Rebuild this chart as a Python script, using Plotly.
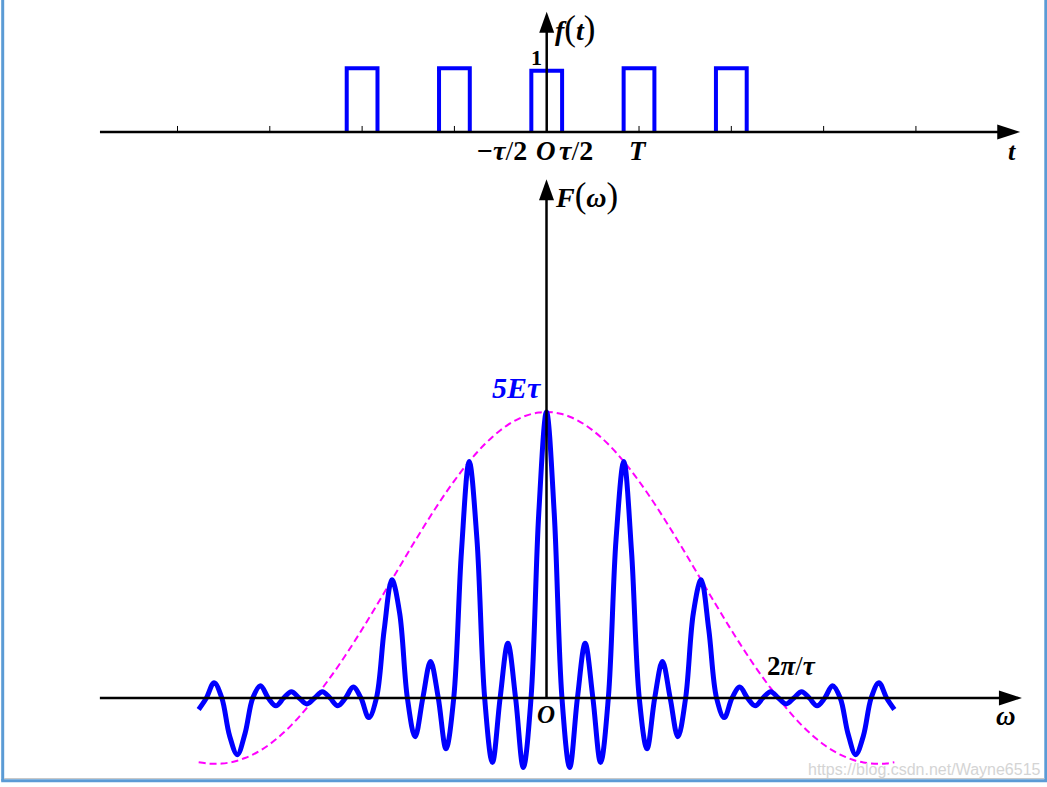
import plotly.graph_objects as go

# ---------------- data ----------------
# top panel: rectangular pulse train f(t), t in units of T
pulse_centers = [-2, -1, 0, 1, 2]
pulse_heights = [1.0, 1.0, 0.96, 1.0, 1.0]
pulse_width = 1 / 3          # tau / T
t_ticks = [-4, -3, -2, -1, 1, 2, 3, 4]

# bottom panel: spectrum F(omega), omega in units of 2*pi/T
omega = [-4.5, -4.4, -4.3, -4.2, -4.1, -4.0, -3.9, -3.8, -3.7, -3.6,
         -3.5, -3.4, -3.3, -3.2, -3.1, -3.0, -2.9, -2.8, -2.7, -2.6,
         -2.5, -2.4, -2.3, -2.2, -2.1, -2.0, -1.9, -1.8, -1.7, -1.6,
         -1.5, -1.4, -1.3, -1.2, -1.1, -1.0, -0.9, -0.8, -0.7, -0.6,
         -0.5, -0.4, -0.3, -0.2, -0.1, 0.0, 0.1, 0.2, 0.3, 0.4,
         0.5, 0.6, 0.7, 0.8, 0.9, 1.0, 1.1, 1.2, 1.3, 1.4,
         1.5, 1.6, 1.7, 1.8, 1.9, 2.0, 2.1, 2.2, 2.3, 2.4,
         2.5, 2.6, 2.7, 2.8, 2.9, 3.0, 3.1, 3.2, 3.3, 3.4,
         3.5, 3.6, 3.7, 3.8, 3.9, 4.0, 4.1, 4.2, 4.3, 4.4, 4.5]

spectrum = [-0.200, 0.0, 0.268, 0.0, -0.660, -0.990, -0.620, 0.0, 0.214, 0.0,
            -0.136, 0.0, 0.110, 0.0, -0.104, 0.0, 0.111, 0.0, -0.135, 0.0,
            0.191, 0.0, -0.343, 0.0, 1.190, 2.068, 1.486, 0.0, -0.679, 0.0,
            0.637, 0.0, -0.888, 0.0, 2.566, 4.135, 2.778, 0.0, -1.128, 0.0,
            0.955, 0.0, -1.216, 0.0, 3.230, 5.000, 3.230, 0.0, -1.216, 0.0,
            0.955, 0.0, -1.128, 0.0, 2.778, 4.135, 2.566, 0.0, -0.888, 0.0,
            0.637, 0.0, -0.679, 0.0, 1.486, 2.068, 1.190, 0.0, -0.343, 0.0,
            0.191, 0.0, -0.135, 0.0, 0.111, 0.0, -0.104, 0.0, 0.110, 0.0,
            -0.136, 0.0, 0.214, 0.0, -0.620, -0.990, -0.660, 0.0, 0.268, 0.0, -0.200]

envelope = [-1.125, -1.144, -1.151, -1.146, -1.128, -1.096, -1.049, -0.990, -0.916, -0.827,
            -0.723, -0.605, -0.474, -0.329, -0.171, 0.000, 0.172, 0.355, 0.546, 0.747,
            0.955, 1.169, 1.389, 1.613, 1.839, 2.068, 2.296, 2.523, 2.747, 2.968,
            3.183, 3.392, 3.593, 3.784, 3.965, 4.135, 4.292, 4.435, 4.564, 4.677,
            4.775, 4.855, 4.918, 4.964, 4.991, 5.000, 4.991, 4.964, 4.918, 4.855,
            4.775, 4.677, 4.564, 4.435, 4.292, 4.135, 3.965, 3.784, 3.593, 3.392,
            3.183, 2.968, 2.747, 2.523, 2.296, 2.068, 1.839, 1.613, 1.389, 1.169,
            0.955, 0.747, 0.546, 0.355, 0.172, 0.000, -0.171, -0.329, -0.474, -0.605,
            -0.723, -0.827, -0.916, -0.990, -1.049, -1.096, -1.128, -1.146, -1.151, -1.144, -1.125]

# ---------------- build pulse path ----------------
pulse_x, pulse_y = [], []
for c, h in zip(pulse_centers, pulse_heights):
    a, b = c - pulse_width / 2, c + pulse_width / 2
    pulse_x += [a, a, b, b, None]
    pulse_y += [0, h, h, 0, None]

BLUE = "#0000ff"
MAGENTA = "#ff00ff"
SERIF = "Liberation Serif"

fig = go.Figure()
fig.add_trace(go.Scatter(x=pulse_x, y=pulse_y, mode="lines",
                         line=dict(color=BLUE, width=4),
                         xaxis="x", yaxis="y", hoverinfo="skip"))
fig.add_trace(go.Scatter(x=omega, y=envelope, mode="lines",
                         line=dict(color=MAGENTA, width=2, dash="7px,4px", shape="spline"),
                         xaxis="x2", yaxis="y2", hoverinfo="skip"))
fig.add_trace(go.Scatter(x=omega, y=spectrum, mode="lines",
                         line=dict(color=BLUE, width=5, shape="spline", smoothing=1),
                         xaxis="x2", yaxis="y2", hoverinfo="skip"))

shapes = []
AX = dict(color="black", width=2.5)

def hline(xref, yref, x0, x1, y):
    shapes.append(dict(type="line", xref=xref, yref=yref, x0=x0, x1=x1, y0=y, y1=y,
                       line=AX, layer="above"))

def vline(xref, yref, x, y0, y1):
    shapes.append(dict(type="line", xref=xref, yref=yref, x0=x, x1=x, y0=y0, y1=y1,
                       line=AX, layer="above"))

def head_right(xref, yref, x, y):
    shapes.append(dict(type="path", xref=xref, yref=yref,
                       xsizemode="pixel", ysizemode="pixel", xanchor=x, yanchor=y,
                       path="M0,0 L-23,7.5 L-23,-7.5 Z",
                       fillcolor="black", line=dict(color="black", width=0), layer="above"))

def head_up(xref, yref, x, y):
    shapes.append(dict(type="path", xref=xref, yref=yref,
                       xsizemode="pixel", ysizemode="pixel", xanchor=x, yanchor=y,
                       path="M0,0 L-7.5,-21 L7.5,-21 Z",
                       fillcolor="black", line=dict(color="black", width=0), layer="above"))

# top axes
hline("x", "y", -4.84, 5.0, 0)
head_right("x", "y", 5.13, 0)
vline("x", "y", 0, 0, 1.7)
head_up("x", "y", 0, 1.889)
for t in t_ticks:
    shapes.append(dict(type="line", xref="x", yref="y", x0=t, x1=t,
                       ysizemode="pixel", yanchor=0, y0=0, y1=6,
                       line=dict(color="black", width=1), layer="above"))

# bottom axes
hline("x2", "y2", -5.778, 6.0, 0)
head_right("x2", "y2", 6.151, 0)
vline("x2", "y2", 0, 0, 8.8)
head_up("x2", "y2", 0, 9.07)

# frame
FRAME = "#5b9bd5"
shapes += [
    dict(type="line", xref="paper", yref="paper", x0=2.7 / 1047, x1=2.7 / 1047,
         y0=6.3 / 787, y1=1, line=dict(color=FRAME, width=3)),
    dict(type="line", xref="paper", yref="paper", x0=1045.8 / 1047, x1=1045.8 / 1047,
         y0=6.3 / 787, y1=1, line=dict(color=FRAME, width=3)),
    dict(type="line", xref="paper", yref="paper", x0=1.2 / 1047, x1=1047.3 / 1047,
         y0=6.3 / 787, y1=6.3 / 787, line=dict(color=FRAME, width=3)),
    dict(type="line", xref="paper", yref="paper", x0=4 / 1047, x1=1044.3 / 1047,
         y0=8.5 / 787, y1=8.5 / 787, line=dict(color="#c8c8c8", width=1.2)),
]

def lab(text, x, y, xref, yref, size, color="black", xanchor="center"):
    return dict(text=text, x=x, y=y, xref=xref, yref=yref, showarrow=False,
                xanchor=xanchor, yanchor="middle",
                font=dict(family=SERIF, size=size, color=color))

P = "<span style='font-size:35px'>(</span>"
Q = "<span style='font-size:35px'>)</span>"
annotations = [
    lab("<b><i>f</i></b>" + P + "<b><i>t</i></b>" + Q, 0.069, 1.62, "x", "y", 28, xanchor="left"),
    lab("<b>1</b>", -0.116, 1.162, "x", "y", 22),
    lab("<b>\u2212</b><b><i>\u03c4</i></b>/<b>2</b>", -0.489, -0.298, "x", "y", 28),
    lab("<b><i>O</i></b>", -0.013, -0.298, "x", "y", 27),
    lab("<b><i>\u03c4</i></b>/<b>2</b>", 0.318, -0.298, "x", "y", 28),
    lab("<b><i>T</i></b>", 0.992, -0.298, "x", "y", 27),
    lab("<b><i>t</i></b>", 5.04, -0.314, "x", "y", 26),
    lab("<b><i>F</i></b>" + P + "<b><i>\u03c9</i></b>" + Q, 0.084, 8.79, "x2", "y2", 28, xanchor="left"),
    lab("<b><i>5E\u03c4</i></b>", -0.382, 5.42, "x2", "y2", 30, color=BLUE),
    lab("<b><i>O</i></b>", -0.006, -0.297, "x2", "y2", 25),
    lab("<b><i>\u03c9</i></b>", 5.944, -0.315, "x2", "y2", 27),
    lab("<b>2</b><b><i>\u03c0</i></b>/<b><i>\u03c4</i></b>", 3.172, 0.559, "x2", "y2", 27),
    dict(text="https://blog.csdn.net/Wayne6515", x=806 / 1047, y=17.5 / 787,
         xref="paper", yref="paper", showarrow=False, xanchor="left", yanchor="middle",
         font=dict(family="Liberation Sans", size=16, color="#d4d4d4")),
]

hidden = dict(visible=False, showgrid=False, zeroline=False, fixedrange=True)
fig.update_layout(
    width=1047, height=787,
    margin=dict(l=0, r=0, t=0, b=0),
    paper_bgcolor="white", plot_bgcolor="white",
    showlegend=False,
    font=dict(family=SERIF),
    xaxis=dict(domain=[0, 1], range=[-5.923, 5.420], anchor="y", **hidden),
    yaxis=dict(domain=[1 - 170 / 787, 1], range=[-0.597, 2.072], anchor="x", **hidden),
    xaxis2=dict(domain=[0, 1], range=[-7.070, 6.475], anchor="y2", **hidden),
    yaxis2=dict(domain=[0, 1 - 170 / 787], range=[-1.556, 9.231], anchor="x2", **hidden),
    shapes=shapes,
    annotations=annotations,
)

fig.write_html("out.html", config={"displayModeBar": False},
               post_script="document.body.style.margin='0px';document.body.style.overflow='hidden';")
